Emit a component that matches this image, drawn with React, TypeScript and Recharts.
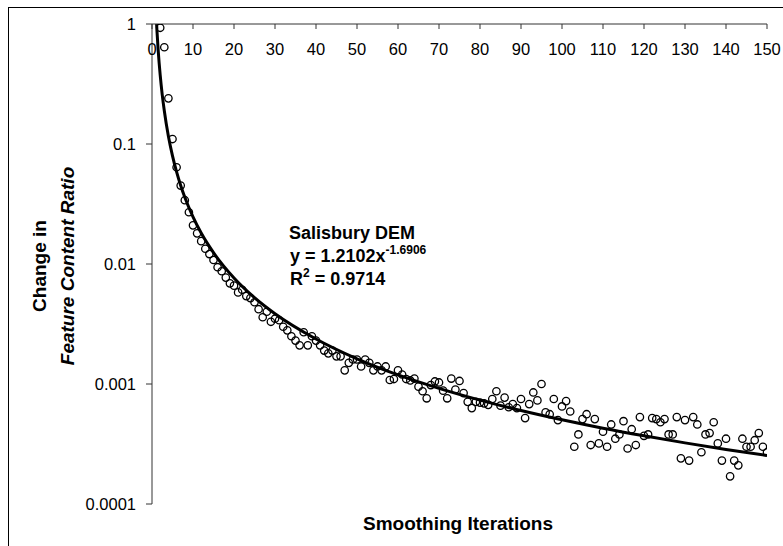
import { ComposedChart, Line, Scatter, XAxis, YAxis } from 'recharts';

// change in feature content ratio per smoothing iteration (iterations 2..150)
const firstIteration = 2;
const changeEarly = [
    0.93, 0.64, 0.24, 0.11, 0.064, 0.045, 0.034, 0.027, 0.021, 0.018,
    0.0155, 0.0134, 0.0121, 0.0108, 0.0094, 0.0087, 0.0077, 0.0069, 0.0066, 0.0058,
    0.0061, 0.0054, 0.0052, 0.0048, 0.0042, 0.0036, 0.004, 0.0033, 0.0035, 0.0034,
    0.003, 0.0028, 0.0025, 0.0023, 0.0021, 0.0027, 0.0021, 0.0025, 0.0023, 0.0021,
    0.0019, 0.0018, 0.0019, 0.0017, 0.0017, 0.0013, 0.0015, 0.0016, 0.0016,
];
const changeMid = [
    0.0014, 0.0016, 0.0015, 0.0013, 0.0014, 0.0013, 0.0014, 0.00108, 0.0011, 0.0013,
    0.0012, 0.0011, 0.00107, 0.00111, 0.00095, 0.00087, 0.00076, 0.00098, 0.00105, 0.00103,
    0.00088, 0.00076, 0.00111, 0.0009, 0.00106, 0.00084, 0.00071, 0.00063, 0.00071, 0.0007,
    0.00069, 0.00067, 0.00075, 0.00087, 0.00066, 0.00077, 0.00064, 0.00068, 0.00063, 0.00075,
    0.00052, 0.00068, 0.00085, 0.00073, 0.001, 0.00058, 0.00056, 0.00075, 0.0005, 0.00065,
];
const changeLate = [
    0.00072, 0.00059, 0.0003, 0.00038, 0.00051, 0.00056, 0.00031, 0.00051, 0.00032, 0.0004,
    0.0003, 0.00046, 0.00035, 0.00038, 0.00049, 0.00029, 0.00042, 0.00031, 0.00053, 0.00037,
    0.00038, 0.00052, 0.00051, 0.00048, 0.00051, 0.00038, 0.00038, 0.00053, 0.00024, 0.0005,
    0.00023, 0.00053, 0.00046, 0.00027, 0.00038, 0.00039, 0.00048, 0.00032, 0.00023, 0.00035,
    0.00017, 0.00023, 0.00021, 0.00035, 0.0003, 0.0003, 0.00034, 0.00039, 0.0003, 0.00027,
];

// power trend line
const fitIterations = [1, 1.2, 1.5, 2, 2.5, 3, 4, 5, 6, 7, 8, 10, 12, 15, 20, 25, 30, 40, 50, 60, 70, 80, 90, 100, 110, 120, 130, 140, 150];
const fitValues = [1.21, 0.889, 0.61, 0.375, 0.257, 0.189, 0.116, 0.0797, 0.0585, 0.0451, 0.036, 0.0247, 0.0181, 0.01243, 0.00764, 0.00524, 0.00385, 0.00237, 0.00162, 0.00119, 0.00092, 0.000734, 0.000601, 0.000503, 0.000428, 0.00037, 0.000323, 0.000285, 0.000254];

const xTicks = [0, 10, 20, 30, 40, 50, 60, 70, 80, 90, 100, 110, 120, 130, 140, 150];
const yTicks = [0.0001, 0.001, 0.01, 0.1, 1];

const points = [...changeEarly, ...changeMid, ...changeLate].map((v, i) => ({ x: firstIteration + i, y: v }));
const fitData = fitIterations.map((x, i) => ({ x, fit: fitValues[i] }));

const font = '"Liberation Sans", Arial, sans-serif';
const axisColor = '#333';

const OpenCircle = (props: any) => {
    if (props.cx == null || props.cy == null) return null;
    return <circle cx={props.cx} cy={props.cy} r={3.7} fill="none" stroke="#000" strokeWidth={1.3} />;
};

export default function App() {
    return (
        <div style={{ position: 'fixed', left: 0, top: 0, width: 783, height: 546, overflow: 'hidden', background: '#fff', fontFamily: font }}>
            <div style={{ position: 'absolute', left: 8, top: 7, width: 900, height: 700, borderLeft: '1px solid #000', borderTop: '1px solid #000' }} />
            <div style={{ position: 'absolute', left: 0, top: 0 }}>
                <ComposedChart width={783} height={546} margin={{ top: 24, right: 16, bottom: 42, left: 72 }}>
                    <XAxis
                        type="number"
                        dataKey="x"
                        orientation="top"
                        mirror
                        domain={[0, 150]}
                        ticks={xTicks}
                        interval={0}
                        allowDataOverflow
                        stroke={axisColor}
                        tickSize={5}
                        tickMargin={14}
                        tick={{ fontSize: 16.5, fill: '#000', fontFamily: font }}
                    />
                    <YAxis
                        type="number"
                        scale="log"
                        domain={[0.0001, 1]}
                        ticks={yTicks}
                        interval={0}
                        allowDataOverflow
                        width={80}
                        stroke={axisColor}
                        tickSize={6}
                        tickMargin={10}
                        tickFormatter={(v: number) => String(v)}
                        tick={{ fontSize: 16.5, fill: '#000', fontFamily: font }}
                    />
                    <Line
                        data={fitData}
                        dataKey="fit"
                        type="monotone"
                        stroke="#000"
                        strokeWidth={3}
                        dot={false}
                        activeDot={false}
                        isAnimationActive={false}
                    />
                    <Scatter data={points} dataKey="y" shape={OpenCircle} isAnimationActive={false} />
                </ComposedChart>
            </div>
            <svg width={783} height={546} style={{ position: 'absolute', left: 0, top: 0, pointerEvents: 'none' }} fontFamily={font} fontWeight="bold" fill="#000">
                <text x={458} y={530} fontSize={19} textAnchor="middle">Smoothing Iterations</text>
                <text transform="translate(46,266) rotate(-90)" fontSize={19} textAnchor="middle">Change in</text>
                <text transform="translate(74,266) rotate(-90)" fontSize={19} fontStyle="italic" textAnchor="middle">Feature Content Ratio</text>
                <text x={289} y={239} fontSize={18}>Salisbury DEM</text>
                <text x={290} y={262} fontSize={18}>
                    y = 1.2102x<tspan fontSize={12} dy={-8}>-1.6906</tspan>
                </text>
                <text x={290} y={285} fontSize={18}>
                    R<tspan fontSize={12} dy={-8}>2</tspan><tspan dy={8}> = 0.9714</tspan>
                </text>
            </svg>
        </div>
    );
}
